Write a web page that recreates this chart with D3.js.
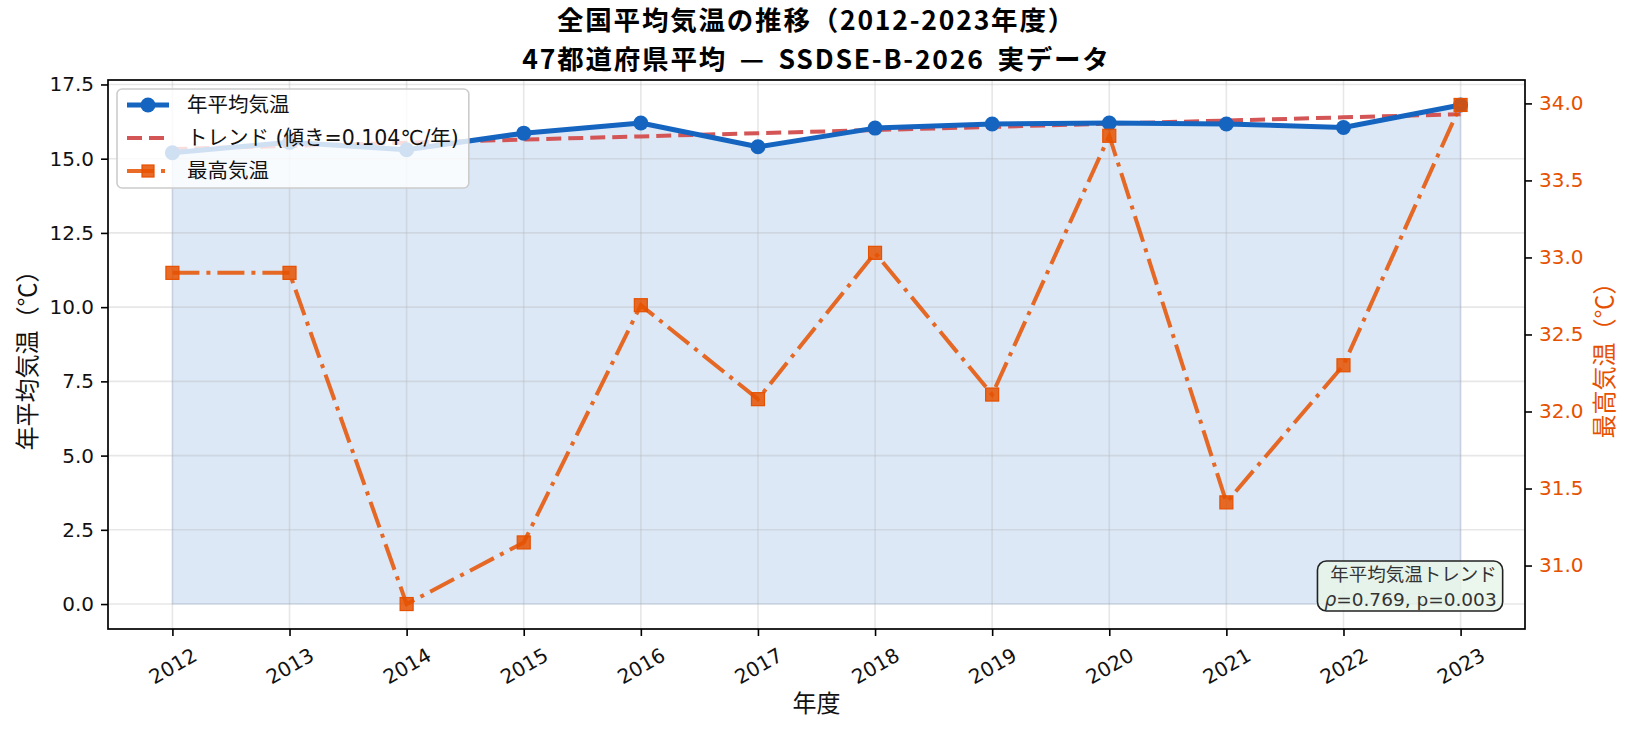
<!DOCTYPE html>
<html>
<head>
<meta charset="utf-8">
<script src="https://cdn.jsdelivr.net/npm/d3@7/dist/d3.min.js"></script>
<style>
  body { margin: 0; background: #fff; }
  svg { font-family: "Noto Sans CJK JP", "Noto Sans", sans-serif; }
</style>
</head>
<body>
<div id="chart"></div>
<script>
// Data
const years = [2012, 2013, 2014, 2015, 2016, 2017, 2018, 2019, 2020, 2021, 2022, 2023];
const annualTemp = [15.2, 15.55, 15.3, 15.86, 16.2, 15.4, 16.03, 16.17, 16.2, 16.17, 16.05, 16.81];
const maxTemp = [32.9, 32.9, 30.75, 31.15, 32.69, 32.08, 33.03, 32.11, 33.79, 31.41, 32.3, 33.99];
const leftTicks = [0, 2.5, 5, 7.5, 10, 12.5, 15, 17.5];
const rightTicks = [31.0, 31.5, 32.0, 32.5, 33.0, 33.5, 34.0];

const titleLines = ["全国平均気温の推移（2012-2023年度）", "47都道府県平均 — SSDSE-B-2026 実データ"];
const legendLabels = ["年平均気温", "トレンド (傾き=0.104℃/年)", "最高気温"];
const statTitle = "年平均気温トレンド";
const statRho = "0.769", statP = "0.003";

const blue = "#1565C0", red = "#d45555", orange = "#E65100";
const latinFont = "'DejaVu Sans', 'Noto Sans CJK JP', sans-serif";

// Plot area
const W = 1635, H = 735;
const plotL = 108, plotR = 1525, plotT = 80, plotB = 629;

const svg = d3.select("#chart").append("svg")
    .attr("width", W)
    .attr("height", H);

// Scales (matplotlib-style 5% margins)
const xPad = (d3.max(years) - d3.min(years)) * 0.05;
const x = d3.scaleLinear()
    .domain([d3.min(years) - xPad, d3.max(years) + xPad])
    .range([plotL, plotR]);

const aMax = d3.max(annualTemp);
const yLeft = d3.scaleLinear()
    .domain([-0.05 * aMax, aMax * 1.05])
    .range([plotB, plotT]);

const mMin = d3.min(maxTemp), mMax = d3.max(maxTemp), mR = mMax - mMin;
const yRight = d3.scaleLinear()
    .domain([mMin - 0.05 * mR, mMax + 0.05 * mR])
    .range([plotB, plotT]);

const annual = years.map((y, i) => ({year: y, v: annualTemp[i]}));
const highs = years.map((y, i) => ({year: y, v: maxTemp[i]}));

// Least squares trend of annual temperature
const xm = d3.mean(years), ym = d3.mean(annualTemp);
const slope = d3.sum(annual, d => (d.year - xm) * (d.v - ym)) / d3.sum(years, y => (y - xm) ** 2);
const trend = years.map(y => ({year: y, v: ym + slope * (y - xm)}));

// Fill area
svg.append("path")
    .datum(annual)
    .attr("fill", blue)
    .attr("fill-opacity", 0.15)
    .attr("stroke", blue)
    .attr("stroke-opacity", 0.12)
    .attr("stroke-width", 1.5)
    .attr("d", d3.area().x(d => x(d.year)).y0(yLeft(0)).y1(d => yLeft(d.v)));

// Grid
const grid = svg.append("g").attr("stroke", "#b0b0b0").attr("stroke-opacity", 0.3).attr("stroke-width", 1.6);
grid.selectAll(".gx").data(years).enter().append("line")
    .attr("x1", d => x(d)).attr("x2", d => x(d))
    .attr("y1", plotT).attr("y2", plotB);
grid.selectAll(".gy").data(leftTicks).enter().append("line")
    .attr("x1", plotL).attr("x2", plotR)
    .attr("y1", d => yLeft(d)).attr("y2", d => yLeft(d));

// Trend line
svg.append("path")
    .datum(trend)
    .attr("fill", "none")
    .attr("stroke", red)
    .attr("stroke-width", 4)
    .attr("stroke-dasharray", "15,7")
    .attr("d", d3.line().x(d => x(d.year)).y(d => yLeft(d.v)));

// Annual mean line
svg.append("path")
    .datum(annual)
    .attr("fill", "none")
    .attr("stroke", blue)
    .attr("stroke-width", 5)
    .attr("stroke-linejoin", "round")
    .attr("d", d3.line().x(d => x(d.year)).y(d => yLeft(d.v)));

svg.selectAll(".dot")
    .data(annual)
    .enter().append("circle")
    .attr("cx", d => x(d.year))
    .attr("cy", d => yLeft(d.v))
    .attr("r", 7.5)
    .attr("fill", blue);

// Legend
const legend = svg.append("g").attr("transform", `translate(${plotL + 9},${plotT + 9})`);
const legBox = legend.append("rect")
    .attr("rx", 5).attr("ry", 5)
    .attr("fill", "#fff").attr("fill-opacity", 0.8)
    .attr("stroke", "#cccccc").attr("stroke-width", 1.6);
const rowY = [16, 49, 82];
legendLabels.forEach((t, i) => {
    legend.append("text")
        .attr("x", 70).attr("y", rowY[i])
        .attr("dy", "0.35em")
        .attr("font-size", 20.5)
        .attr("font-family", latinFont)
        .attr("fill", "#111")
        .text(t);
});
legend.append("line").attr("x1", 10).attr("x2", 52).attr("y1", rowY[0]).attr("y2", rowY[0])
    .attr("stroke", blue).attr("stroke-width", 5);
legend.append("circle").attr("cx", 31).attr("cy", rowY[0]).attr("r", 7.5).attr("fill", blue);
legend.append("line").attr("x1", 10).attr("x2", 52).attr("y1", rowY[1]).attr("y2", rowY[1])
    .attr("stroke", red).attr("stroke-width", 4).attr("stroke-dasharray", "15,7");
legend.append("line").attr("x1", 10).attr("x2", 52).attr("y1", rowY[2]).attr("y2", rowY[2])
    .attr("stroke", orange).attr("stroke-opacity", 0.85).attr("stroke-width", 4)
    .attr("stroke-dasharray", "27,7,4,7");
legend.append("rect").attr("x", 25).attr("y", rowY[2] - 6).attr("width", 12).attr("height", 12)
    .attr("fill", orange).attr("fill-opacity", 0.85).attr("stroke", orange).attr("stroke-width", 1.2);
const lb = legend.node().getBBox();
legBox.attr("x", 0).attr("y", 0).attr("width", lb.x + lb.width + 10).attr("height", 99);

// Statistics box
const stat = svg.append("g")
    .attr("font-family", latinFont)
    .attr("font-size", 18.5)
    .attr("fill", "#333")
    .attr("text-anchor", "end");
const statBox = stat.append("rect");
const sx = plotL + 0.98 * (plotR - plotL);
stat.append("text").attr("x", sx).attr("y", 581).text(statTitle);
const rhoLine = stat.append("text").attr("x", sx).attr("y", 606);
rhoLine.append("tspan").attr("font-style", "italic").text("ρ");
rhoLine.append("tspan").text(`=${statRho}, p=${statP}`);
const sb = stat.node().getBBox();
statBox.attr("x", sb.x - 7).attr("y", sb.y - 3).attr("width", sb.width + 13).attr("height", sb.height + 4)
    .attr("rx", 9).attr("ry", 9)
    .attr("fill", "#e8f5e9").attr("fill-opacity", 0.85)
    .attr("stroke", "#222").attr("stroke-width", 1.6);

// Max temperature (secondary axis, drawn on top)
svg.append("path")
    .datum(highs)
    .attr("fill", "none")
    .attr("stroke", orange)
    .attr("stroke-opacity", 0.85)
    .attr("stroke-width", 4)
    .attr("stroke-dasharray", "27,7,4,7")
    .attr("d", d3.line().x(d => x(d.year)).y(d => yRight(d.v)));

svg.selectAll(".sq")
    .data(highs)
    .enter().append("rect")
    .attr("x", d => x(d.year) - 6.5)
    .attr("y", d => yRight(d.v) - 6.5)
    .attr("width", 13).attr("height", 13)
    .attr("fill", orange).attr("fill-opacity", 0.85)
    .attr("stroke", orange).attr("stroke-width", 1.2);

// Frame
svg.append("rect")
    .attr("x", plotL).attr("y", plotT)
    .attr("width", plotR - plotL).attr("height", plotB - plotT)
    .attr("fill", "none").attr("stroke", "#000").attr("stroke-width", 1.7);

// Axes
const yAxisL = svg.append("g")
    .attr("transform", `translate(${plotL},0)`)
    .call(d3.axisLeft(yLeft).tickValues(leftTicks).tickFormat(d3.format(".1f")).tickSize(7).tickPadding(7));
const yAxisR = svg.append("g")
    .attr("transform", `translate(${plotR},0)`)
    .call(d3.axisRight(yRight).tickValues(rightTicks).tickFormat(d3.format(".1f")).tickSize(7).tickPadding(7));
const xAxis = svg.append("g")
    .attr("transform", `translate(0,${plotB})`)
    .call(d3.axisBottom(x).tickValues(years).tickFormat(d3.format("d")).tickSize(7).tickPadding(7));

[yAxisL, yAxisR, xAxis].forEach(a => {
    a.select(".domain").remove();
    a.selectAll(".tick line").attr("stroke", "#000").attr("stroke-width", 1.6);
    a.selectAll(".tick text").attr("font-size", 20).attr("font-family", latinFont).attr("fill", "#111");
});
yAxisR.selectAll(".tick text").attr("fill", orange);

xAxis.selectAll(".tick text")
    .attr("y", 0).attr("dy", 0)
    .attr("text-anchor", "middle")
    .attr("dominant-baseline", "central")
    .attr("transform", "translate(0,37) rotate(-30)");

// Axis labels
svg.append("text")
    .attr("x", (plotL + plotR) / 2).attr("y", 712)
    .attr("text-anchor", "middle")
    .attr("font-size", 24)
    .attr("fill", "#111")
    .text("年度");

svg.append("text")
    .attr("transform", `translate(36,${(plotT + plotB) / 2}) rotate(-90)`)
    .attr("text-anchor", "middle")
    .attr("font-size", 24)
    .attr("fill", "#111")
    .text("年平均気温（℃）");

svg.append("text")
    .attr("transform", `translate(1613,${(plotT + plotB) / 2}) rotate(-90)`)
    .attr("text-anchor", "middle")
    .attr("font-size", 24)
    .attr("fill", orange)
    .text("最高気温（℃）");

// Title
titleLines.forEach((t, i) => {
    svg.append("text")
        .attr("x", (plotL + plotR) / 2)
        .attr("y", 30 + i * 38.5)
        .attr("text-anchor", "middle")
        .attr("font-size", 26.5)
        .attr("font-weight", "bold")
        .attr("letter-spacing", 1.8)
        .attr("word-spacing", 5)
        .attr("fill", "#000")
        .text(t);
});
</script>
</body>
</html>
